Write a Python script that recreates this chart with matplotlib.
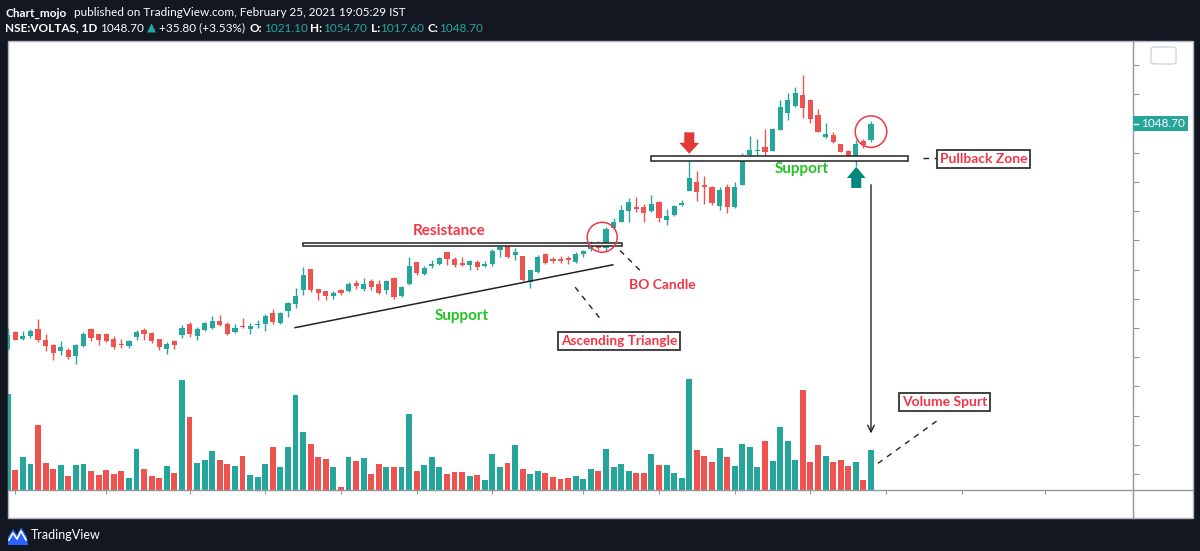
import matplotlib
matplotlib.use("Agg")
import matplotlib.pyplot as plt
from matplotlib.patches import Rectangle, Ellipse, Polygon, FancyBboxPatch
from matplotlib.lines import Line2D
import numpy as np

# daily OHLC (NSE:VOLTAS, 1D)
opens = [663.5, 693.1, 681.1, 685.7, 697.7, 678.9, 670.4, 660.6, 661.8, 652.1,
         669.2, 698.2, 689.1, 689.1, 680.6, 672.6, 669.2, 684.5, 696.0, 692.0,
         680.6, 663.5, 677.2, 687.9, 706.2, 685.7, 697.2, 699.9, 711.3, 706.2,
         692.5, 704.0, 698.2, 705.7, 706.2, 726.2, 708.4, 728.9, 740.3, 765.4,
         801.2, 767.1, 762.5, 755.2, 765.4, 763.0, 776.7, 765.9, 780.1, 775.6,
         764.2, 785.2, 754.5, 774.5, 812.5, 792.7, 805.2, 809.8, 830.8, 818.3,
         811.5, 808.6, 813.7, 805.7, 809.8, 833.7, 840.5, 825.1, 823.9, 778.4,
         796.6, 827.4, 818.8, 818.8, 820.0, 813.7, 826.9, 834.7, 841.5, 837.1,
         870.9, 882.0, 899.5, 906.4, 907.5, 899.5, 914.9, 885.4, 893.4, 910.5,
         935.1, 950.2, 944.6, 941.7, 909.3, 941.7, 906.4, 945.1, 996.3, 1002.9,
         1009.9, 1003.1, 1038.9, 1068.5, 1079.9, 1098.7, 1090.2, 1064.6, 1027.0, 1030.4,
         1014.6, 1001.9, 993.4, 1020.2, 1021.1]
highs = [699.4, 694.3, 694.8, 698.2, 714.7, 690.3, 673.3, 677.2, 665.8, 673.3,
         693.7, 699.4, 689.1, 692.0, 686.9, 681.8, 680.1, 696.0, 699.4, 693.1,
         681.8, 676.0, 680.1, 704.5, 709.6, 701.6, 710.8, 719.8, 722.8, 709.6,
         706.2, 717.6, 707.9, 713.0, 724.5, 733.0, 726.7, 744.2, 768.8, 804.0,
         801.2, 767.1, 762.5, 762.5, 767.1, 778.4, 782.5, 785.9, 784.2, 782.5,
         782.5, 786.9, 771.0, 822.2, 812.5, 806.9, 817.1, 822.2, 830.8, 822.2,
         822.2, 816.6, 817.1, 815.4, 835.4, 846.6, 846.6, 836.4, 823.9, 799.5,
         825.6, 829.1, 822.2, 823.4, 823.4, 829.6, 834.2, 849.5, 849.5, 872.2,
         888.3, 911.0, 922.4, 923.4, 912.2, 927.5, 917.8, 903.6, 910.5, 919.0,
         995.8, 969.0, 960.5, 943.4, 941.7, 946.3, 950.2, 998.5, 1028.7, 1023.1,
         1040.2, 1042.9, 1090.2, 1102.6, 1112.3, 1132.3, 1091.4, 1074.3, 1050.4, 1034.4,
         1014.6, 1004.3, 1021.9, 1024.1, 1054.7]
lows = [661.8, 678.9, 680.1, 682.8, 676.0, 660.6, 646.0, 654.5, 647.7, 639.1,
        666.9, 677.7, 671.6, 676.0, 663.5, 665.8, 666.4, 680.1, 680.1, 675.0,
        663.0, 655.5, 664.0, 682.8, 684.5, 678.9, 694.8, 697.7, 704.0, 687.4,
        690.8, 699.9, 689.1, 699.9, 695.4, 706.7, 707.4, 718.7, 734.4, 755.7,
        761.3, 747.2, 748.4, 748.9, 755.7, 761.3, 767.1, 763.0, 764.2, 758.6,
        758.6, 750.1, 752.8, 772.7, 791.5, 791.0, 803.0, 808.6, 808.6, 804.0,
        805.2, 799.5, 799.5, 804.0, 806.9, 821.0, 820.0, 817.1, 779.6, 768.1,
        794.9, 809.8, 811.5, 810.8, 809.8, 811.9, 822.2, 832.5, 833.7, 832.5,
        869.5, 880.8, 880.8, 897.8, 882.0, 897.8, 880.8, 876.3, 892.2, 908.8,
        935.1, 917.8, 912.2, 911.0, 901.9, 896.1, 904.7, 944.6, 990.7, 996.3,
        987.8, 1001.9, 1038.4, 1055.5, 1078.7, 1059.9, 1051.4, 1034.4, 1024.8, 1016.3,
        1000.2, 987.2, 977.5, 1007.7, 1017.6]
closes = [687.4, 680.1, 686.9, 694.3, 678.9, 669.2, 657.2, 667.5, 650.4, 670.4,
          689.6, 682.8, 680.1, 677.7, 667.5, 670.4, 677.2, 693.7, 689.1, 677.7,
          667.5, 672.1, 671.6, 700.6, 689.1, 698.2, 708.4, 711.3, 705.0, 689.1,
          700.6, 701.1, 702.8, 706.7, 720.4, 709.6, 725.5, 742.5, 754.5, 791.0,
          764.2, 759.6, 755.2, 759.6, 760.3, 775.6, 771.0, 775.6, 769.8, 759.6,
          779.6, 752.8, 769.8, 806.9, 793.7, 803.0, 809.8, 820.0, 818.3, 808.1,
          808.1, 815.4, 804.0, 809.1, 831.3, 839.3, 821.0, 830.8, 782.5, 799.5,
          822.2, 811.5, 815.4, 815.4, 816.6, 826.9, 831.3, 846.1, 836.4, 869.5,
          880.8, 902.4, 914.9, 903.6, 896.8, 912.2, 887.6, 891.0, 909.3, 913.9,
          955.9, 933.2, 940.5, 913.2, 936.1, 907.5, 940.5, 988.3, 1004.8, 1004.3,
          1000.2, 1040.2, 1078.7, 1090.2, 1102.6, 1077.0, 1057.2, 1036.1, 1032.6, 1017.3,
          1001.4, 990.0, 1014.6, 1013.4, 1048.7]
# volume in thousand shares
volumes = [5840, 1200, 2040, 1600, 3980, 1660, 1260, 1540, 860, 1540,
           1600, 1140, 920, 1200, 980, 1140, 740, 2500, 1260, 860,
           740, 1480, 1020, 6680, 4420, 1660, 1820, 2400, 1820, 1600,
           1480, 2100, 920, 800, 1600, 2620, 1420, 2620, 5780, 3520,
           2800, 2040, 1880, 1420, 180, 2000, 1760, 1940, 980, 1600,
           1380, 1420, 1380, 4640, 1140, 1540, 2000, 1380, 980, 1080,
           1080, 860, 920, 580, 2220, 1420, 1660, 2740, 1260, 980,
           1140, 1020, 800, 680, 740, 860, 680, 1260, 1140, 2500,
           1380, 1600, 1140, 1020, 1020, 2220, 1540, 1540, 1020, 740,
           6760, 2440, 2100, 1700, 2560, 2040, 1480, 2800, 2620, 1420,
           2960, 1760, 3860, 2960, 1820, 6120, 1700, 2740, 2100, 1700,
           1820, 1480, 1700, 640, 2440]

price_ticks = [450, 500, 550, 600, 650, 700, 750, 800, 850, 900, 950, 1000, 1050, 1100, 1150]
time_ticks = [1, 13, 24, 34, 44, 54, 64, 76, 86, 96, 106, 116, 126, 137]

UP = "#26a69a"
DOWN = "#ef5350"
BG = "#131722"
RED_TXT = "#f23645"
GREEN_TXT = "#22c322"
AXIS = "#9598a1"

W, H = 1200, 551


def fx(px):
    return px / W


def fy(py):
    return 1 - py / H


plt.rcParams["font.family"] = ["Lato", "DejaVu Sans"]

fig = plt.figure(figsize=(12, 5.51), dpi=100)
fig.patch.set_facecolor(BG)

# white chart panel + scale separators
fig.add_artist(Rectangle((fx(8), fy(518)), fx(1193) - fx(8), fy(41) - fy(518),
                         transform=fig.transFigure, fc="white", ec="#b2b5be", lw=1, zorder=0))
fig.add_artist(Line2D([fx(8), fx(1193)], [fy(490), fy(490)], color=AXIS, lw=1, zorder=5))
fig.add_artist(Line2D([fx(1133), fx(1133)], [fy(41), fy(518)], color=AXIS, lw=1, zorder=5))

rect = [fx(8), fy(490), fx(1133) - fx(8), fy(41) - fy(490)]
o = np.array(opens)
h = np.array(highs)
l = np.array(lows)
c = np.array(closes)
v = np.array(volumes)
x = np.arange(len(o))
colors = np.where(c >= o, UP, DOWN)
XLIM = (0.03, 148.6)

# volume pane (overlay at the bottom)
ax_vol = fig.add_axes(rect)
ax_vol.patch.set_alpha(0)
ax_vol.bar(x, v, width=0.78, color=colors, zorder=2)
ax_vol.set_xlim(*XLIM)
ax_vol.set_ylim(0, v.max() / 0.247)
ax_vol.set_xticks(time_ticks)
ax_vol.set_xticklabels([])
ax_vol.tick_params(axis="x", length=3, color=AXIS, direction="out")
ax_vol.set_yticks([])
for s in ax_vol.spines.values():
    s.set_visible(False)

# price pane
ax = fig.add_axes(rect)
ax.patch.set_alpha(0)
ax.set_xlim(*XLIM)
ax.set_ylim(422.9, 1190.9)
ax.vlines(x, l, h, colors=colors, lw=1, zorder=3)
ax.bar(x, np.maximum(np.abs(c - o), 0.9), bottom=np.minimum(o, c), width=0.68,
       color=colors, zorder=4)
ax.set_xticks([])
ax.yaxis.tick_right()
ax.set_yticks(price_ticks)
ax.set_yticklabels([])
ax.tick_params(axis="y", length=4, color=AXIS, direction="out")
for s in ax.spines.values():
    s.set_visible(False)

# ---- drawings ----
line_kw = dict(color="#222222", lw=1.1, zorder=6)
dash_kw = dict(color="#222222", lw=1.0, ls=(0, (4, 4)), zorder=6)
box_kw = dict(boxstyle="square,pad=0.22", fc="white", ec="#333333", lw=1.3)

# resistance band
ax.add_patch(Rectangle((38.96, 840.1), 42.14, 6.0, fc="white", ec="#222222", lw=1.1, zorder=6))
ax.text(58.3, 865.7, "Resistance", color=RED_TXT, fontsize=11, fontweight="bold",
        ha="center", va="center", zorder=7)
# rising support
ax.plot([37.94, 79.9], [700.6, 808.1], **line_kw)
ax.text(59.97, 720.2, "Support", color=GREEN_TXT, fontsize=11, fontweight="bold",
        ha="center", va="center", zorder=7)
# breakout candle
ax.add_patch(Ellipse((78.5, 855.2), 3.96, 51.2, fill=False, ec=RED_TXT, lw=1.1, zorder=7))
ax.plot([80.87, 83.95], [832.5, 792.7], **dash_kw)
ax.text(86.42, 773.6, "BO Candle", color=RED_TXT, fontsize=10, fontweight="bold",
        ha="center", va="center", zorder=7)
ax.plot([74.93, 78.59], [769.8, 710.1], **dash_kw)
ax.text(80.74, 677.2, "Ascending Triangle", color=RED_TXT, fontsize=9.8, fontweight="bold",
        ha="center", va="center", bbox=box_kw, zorder=7)

# upper support band
ax.add_patch(Rectangle((84.97, 986.1), 33.95, 7.7, fc="white", ec="#222222", lw=1.1, zorder=6))
ax.text(104.89, 971.6, "Support", color=GREEN_TXT, fontsize=11, fontweight="bold",
        ha="center", va="center", zorder=7)
ax.plot([120.9, 122.7], [990.0, 990.0], **dash_kw)
ax.text(128.86, 989.8, "Pullback Zone", color=RED_TXT, fontsize=10, fontweight="bold",
        ha="center", va="center", bbox=box_kw, zorder=7)

# red down arrow
ax.add_patch(Polygon([(89.34, 1034.7), (90.66, 1034.7), (90.66, 1016.8), (91.32, 1016.8),
                      (90.0, 998.0), (88.68, 1016.8), (89.34, 1016.8)],
                     closed=True, fc="#e53935", ec="none", zorder=7))
# teal up arrow
ax.add_patch(Polygon([(111.39, 939.5), (112.71, 939.5), (112.71, 956.5), (113.28, 956.5),
                      (112.05, 975.8), (110.82, 956.5), (111.39, 956.5)],
                     closed=True, fc="#00897b", ec="none", zorder=7))
# last candles circle
ax.add_patch(Ellipse((114.0, 1035.9), 4.17, 53.9, fill=False, ec=RED_TXT, lw=1.1, zorder=7))

# arrow to the volume spurt
ax.annotate("", xy=(114.0, 519.7), xytext=(114.0, 945.1),
            arrowprops=dict(arrowstyle="->", color="#222222", lw=1.0,
                            shrinkA=0, shrinkB=0, mutation_scale=12), zorder=7)
ax.plot([114.92, 122.97], [468.5, 543.6], **dash_kw)
ax.text(123.67, 573.1, "Volume Spurt", color=RED_TXT, fontsize=10, fontweight="bold",
        ha="center", va="center", bbox=box_kw, zorder=7)

# last price label on the scale
fig.add_artist(Rectangle((fx(1133), fy(131)), fx(1188) - fx(1133), fy(116) - fy(131),
                         transform=fig.transFigure, fc=UP, ec="none", zorder=8))
fig.add_artist(Line2D([fx(1134), fx(1138)], [fy(123.5), fy(123.5)], color="white", lw=1, zorder=9))
fig.text(fx(1163), fy(123.5), "1048.70", color="white", fontsize=8.5, ha="center",
         va="center", zorder=9)
fig.add_artist(FancyBboxPatch((fx(1151), fy(64)), fx(1176) - fx(1151), fy(47) - fy(64),
                              boxstyle="round,pad=0,rounding_size=0.004",
                              transform=fig.transFigure, fc="white", ec="#d1d4dc", lw=1, zorder=8))

# header
fig.text(fx(5), fy(13), "Chart_mojo", color="white", fontsize=8.5, fontweight="bold", va="center")
fig.text(fx(73.5), fy(13), "published on TradingView.com, February 25, 2021 19:05:29 IST",
         color="white", fontsize=8.5, va="center")
header = [
    (5, "NSE:VOLTAS, 1D", "white", "bold"),
    (100, "1048.70", "white", "normal"),
    (146.5, "\u25b2", UP, "normal"),
    (159, "+35.80 (+3.53%)", "white", "normal"),
    (249.5, "O:", "white", "bold"),
    (264, "1021.10", UP, "normal"),
    (310, "H:", "white", "bold"),
    (323, "1054.70", UP, "normal"),
    (371, "L:", "white", "bold"),
    (380, "1017.60", UP, "normal"),
    (427.5, "C:", "white", "bold"),
    (439, "1048.70", UP, "normal"),
]
for px, txt, col, wt in header:
    fig.text(fx(px), fy(28), txt, color=col, fontsize=8.5, fontweight=wt, va="center")

# TradingView footer logo
fig.add_artist(Polygon([(fx(8), fy(545)), (fx(8), fy(537)), (fx(13), fy(529)), (fx(17), fy(535)),
                        (fx(21), fy(527)), (fx(27), fy(537)), (fx(28), fy(545))],
                       closed=True, transform=fig.transFigure, fc="#2962ff", ec="none"))
fig.add_artist(Line2D([fx(9), fx(13), fx(17), fx(21), fx(26)],
                      [fy(540), fy(533), fy(539), fy(531), fy(540)],
                      color="white", lw=1.2))
fig.text(fx(31), fy(535), "TradingView", color="white", fontsize=9, va="center")

fig.savefig("out.png", dpi=100, facecolor=fig.get_facecolor())
